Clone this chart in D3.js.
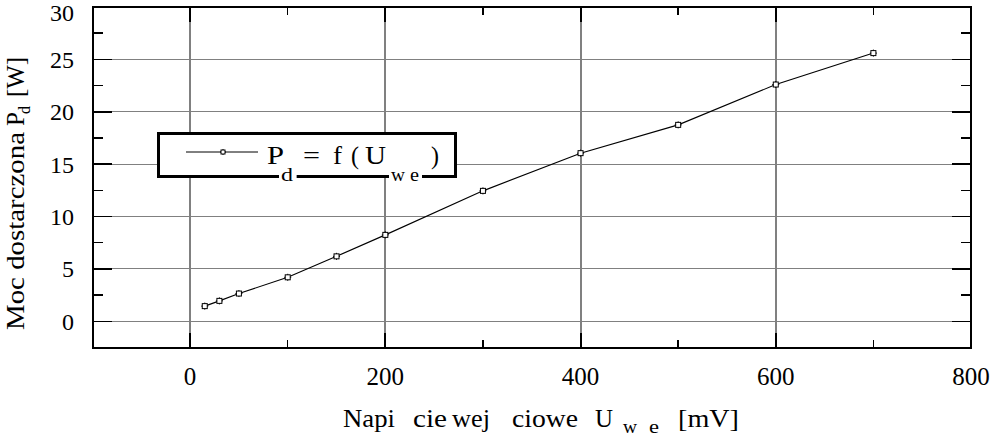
<!DOCTYPE html>
<html><head><meta charset="utf-8">
<script src="https://cdn.jsdelivr.net/npm/d3@7"></script>
<style>
body{margin:0;background:#fff}
svg{display:block}
text{font-family:"Liberation Serif","Times New Roman",serif;fill:#000}
</style>
</head><body>
<svg id="c" width="992" height="439"></svg>
<script>
// ---- data ----
const voltage = [15, 30, 50, 100, 150, 200, 300, 400, 500, 600, 700];   // U_we [mV]
const power   = [1.45, 1.95, 2.65, 4.2, 6.2, 8.25, 12.45, 16.05, 18.75, 22.6, 25.6]; // P_d [W]
const xTickLabels = [0, 200, 400, 600, 800];
const yTickLabels = [0, 5, 10, 15, 20, 25, 30];
const xDomain = [-100, 800];
const yDomain = [-2.5, 30];

const svg = d3.select("#c");
const L = 92.5, R = 971, T = 7, B = 347.5;
const x = d3.scaleLinear().domain(xDomain).range([L, R]);
const y = d3.scaleLinear().domain(yDomain).range([B, T]);

const xMajor = x.ticks(4).filter(v => v > xDomain[0] && v < xDomain[1]);
const xMinor = d3.range(-100, 801, 100).filter(v => v % 200 !== 0 && v > xDomain[0] && v < xDomain[1]);
const yMajor = y.ticks(6).filter(v => v > yDomain[0] && v < yDomain[1]);
const yMinor = d3.range(-2.5, 30.01, 2.5).filter(v => v % 5 !== 0 && v > yDomain[0] && v < yDomain[1]);

function txt(parent, s, px, py, size, len) {
  const t = parent.append("text").attr("x", px).attr("y", py).attr("font-size", size).text(s);
  if (len) t.attr("textLength", len).attr("lengthAdjust", "spacingAndGlyphs");
  return t;
}

// grid
const g = svg.append("g").attr("shape-rendering", "crispEdges");
g.selectAll(".gx").data(xMajor).join("line").attr("class","gx")
  .attr("x1", d => x(d)).attr("x2", d => x(d)).attr("y1", T).attr("y2", B)
  .attr("stroke", "#808080").attr("stroke-width", 2);
g.selectAll(".gy").data(yMajor).join("line").attr("class","gy")
  .attr("x1", L).attr("x2", R).attr("y1", d => y(d)).attr("y2", d => y(d))
  .attr("stroke", "#808080").attr("stroke-width", 1);

// ticks on all four sides
const tk = svg.append("g").attr("stroke", "#000").attr("shape-rendering", "crispEdges");
function xt(vals, len, w) {
  vals.forEach(v => {
    tk.append("line").attr("x1", x(v)).attr("x2", x(v)).attr("y1", B).attr("y2", B - len).attr("stroke-width", w);
    tk.append("line").attr("x1", x(v)).attr("x2", x(v)).attr("y1", T).attr("y2", T + len).attr("stroke-width", w);
  });
}
function yt(vals, len, w) {
  vals.forEach(v => {
    tk.append("line").attr("y1", y(v)).attr("y2", y(v)).attr("x1", L).attr("x2", L + len).attr("stroke-width", w);
    tk.append("line").attr("y1", y(v)).attr("y2", y(v)).attr("x1", R).attr("x2", R - len).attr("stroke-width", w);
  });
}
xt(xMajor, 15, 2); xt(xMinor, 8, 1.5);
yt(yMajor, 19, 1.5); yt(yMinor, 10, 1.5);

// frame
svg.append("rect").attr("x", L).attr("y", T).attr("width", R - L).attr("height", B - T)
  .attr("fill", "none").attr("stroke", "#000").attr("stroke-width", 2).attr("shape-rendering", "crispEdges");

// tick labels
svg.append("g").selectAll("text").data(xTickLabels).join("text")
  .attr("x", d => x(d)).attr("y", 385).attr("text-anchor", "middle").attr("font-size", 25)
  .text(d => d);
svg.append("g").selectAll("text").data(yTickLabels).join("text")
  .attr("x", 74).attr("y", d => Math.max(y(d), 12.5)).attr("dy", "0.35em").attr("text-anchor", "end").attr("font-size", 24)
  .text(d => d);

// data line + markers
const pts = voltage.map((v, i) => [v, power[i]]);
svg.append("path").datum(pts)
  .attr("d", d3.line().x(d => x(d[0])).y(d => y(d[1])))
  .attr("fill", "none").attr("stroke", "#000").attr("stroke-width", 1.1);

function marker(sel) {
  sel.append("path").attr("d", "M-3.5,0H3.5M0,-3.5V3.5").attr("stroke", "#000").attr("stroke-width", 1);
  sel.append("rect").attr("x", -2.5).attr("y", -2.5).attr("width", 5).attr("height", 5)
    .attr("fill", "#fff").attr("stroke", "#000").attr("stroke-width", 1);
}
svg.append("g").selectAll("g").data(pts).join("g")
  .attr("transform", d => `translate(${x(d[0])},${y(d[1])})`)
  .call(marker);

// legend
const lg = svg.append("g");
lg.append("rect").attr("x", 158.5).attr("y", 133.5).attr("width", 297).attr("height", 43)
  .attr("fill", "#fff").attr("stroke", "#000").attr("stroke-width", 3);
lg.append("line").attr("x1", 186).attr("x2", 258).attr("y1", 152).attr("y2", 152).attr("stroke", "#000").attr("stroke-width", 1);
lg.append("g").attr("transform", "translate(223,152)").call(sel => {
  sel.append("path").attr("d", "M-3,0H3M0,-3V3").attr("stroke", "#000").attr("stroke-width", 1);
  sel.append("rect").attr("x", -2).attr("y", -2).attr("width", 4).attr("height", 4).attr("fill", "#fff").attr("stroke", "#000").attr("stroke-width", 1);
});
// subscripts (with white background that breaks the box border)
[["d", 281, 12], ["w", 391, 14], ["e", 410, 9]].forEach(([t, px, len]) => {
  const tx = txt(lg, t, px, 180.5, 19, len);
  const bb = tx.node().getBBox();
  lg.insert("rect", "text").attr("x", bb.x - 2).attr("y", bb.y + 2).attr("width", bb.width + 5).attr("height", bb.height - 2).attr("fill", "#fff");
});
[["P", 267, 17], ["=", 303, 17], ["f", 333, 9], ["(", 351, 8], ["U", 365, 21], [")", 431, 8]]
  .forEach(([t, px, len]) => txt(lg, t, px, 163.5, 26, len));

// x axis title
const xl = svg.append("g");
[["Napi", 343, 52], ["cie", 413, 34], ["wej", 452, 38], ["ciowe", 512, 66], ["U", 595, 18], ["[mV]", 678, 61]]
  .forEach(([t, px, len]) => txt(xl, t, px, 427, 25, len));
[["w", 623, 14], ["e", 649, 10]].forEach(([t, px, len]) => txt(xl, t, px, 433, 18, len));

// y axis title
const yl = svg.append("g").attr("transform", "translate(24,330) rotate(-90)");
[["Moc dostarczona", 0, 198], ["P", 204, 14], ["[W]", 233, 40]]
  .forEach(([t, px, len]) => txt(yl, t, px, 0, 25, len));
txt(yl, "d", 216, 6, 17, 8);
</script>
</body></html>
